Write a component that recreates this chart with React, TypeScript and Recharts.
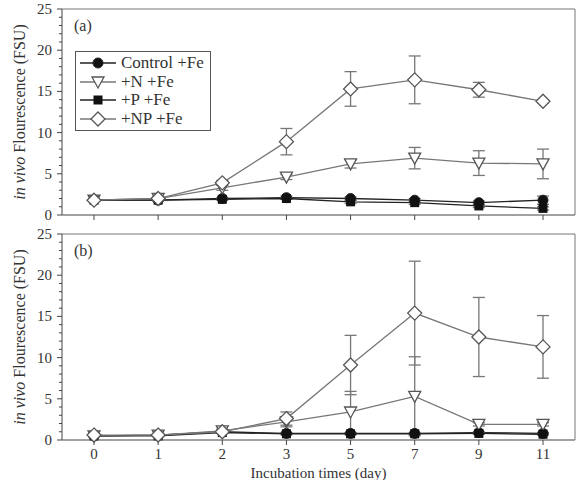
import { LineChart, Line, XAxis, YAxis, ErrorBar, Legend, Label } from 'recharts';

const days = ['0', '1', '2', '3', '5', '7', '9', '11'];
const yTicks = Array.from({ length: 26 }, (_, i) => i);

const seriesNames = ['Control +Fe', '+N +Fe', '+P +Fe', '+NP +Fe'];

// panel (a)
const ctrlA = [1.8, 1.8, 2.0, 2.1, 2.0, 1.8, 1.5, 1.8];
const ctrlAErr = [0.1, 0.1, 0.1, 0.2, 0.2, 0.2, 0.2, 0.5];
const nA = [1.8, 2.0, 3.3, 4.6, 6.2, 6.9, 6.3, 6.2];
const nAErr = [0.1, 0.2, 0.3, 0.3, 0.5, 1.3, 1.5, 1.8];
const pA = [1.8, 1.8, 1.9, 2.0, 1.6, 1.5, 1.1, 0.8];
const pAErr = [0.1, 0.1, 0.1, 0.1, 0.2, 0.2, 0.2, 0.2];
const npA = [1.8, 2.0, 3.9, 8.9, 15.3, 16.4, 15.2, 13.8];
const npAErr = [0.1, 0.2, 0.3, 1.6, 2.1, 2.9, 0.9, 0.2];

// panel (b)
const ctrlB = [0.5, 0.6, 1.0, 0.8, 0.8, 0.8, 0.9, 0.8];
const ctrlBErr = [0.1, 0.1, 0.1, 0.1, 0.1, 0.1, 0.1, 0.1];
const nB = [0.5, 0.6, 1.1, 2.2, 3.4, 5.3, 1.9, 1.9];
const nBErr = [0.1, 0.1, 0.2, 0.6, 2.5, 4.8, 0.2, 0.2];
const pB = [0.5, 0.5, 0.9, 0.75, 0.75, 0.75, 0.8, 0.7];
const pBErr = [0.1, 0.1, 0.1, 0.1, 0.1, 0.1, 0.1, 0.1];
const npB = [0.6, 0.6, 1.0, 2.6, 9.1, 15.4, 12.5, 11.3];
const npBErr = [0.1, 0.1, 0.2, 0.8, 3.6, 6.3, 4.8, 3.8];

const build = (c: number[], ce: number[], n: number[], ne: number[], p: number[], pe: number[], np: number[], npe: number[]) =>
  days.map((day, i) => ({ day, c: c[i], ce: ce[i], n: n[i], ne: ne[i], p: p[i], pe: pe[i], np: np[i], npe: npe[i] }));

const dataA = build(ctrlA, ctrlAErr, nA, nAErr, pA, pAErr, npA, npAErr);
const dataB = build(ctrlB, ctrlBErr, nB, nBErr, pB, pBErr, npB, npBErr);

const FONT = '"Liberation Serif", "Times New Roman", serif';
const AXIS = '#444';
const TEXT = '#333';
const DARK = '#222';
const GREY = '#777';

function Marker({ cx, cy, shape }: { cx: number; cy: number; shape: string }) {
  if (cx == null || cy == null) return null;
  if (shape === 'circle') return <circle cx={cx} cy={cy} r={5} fill="#111" stroke="#222" strokeWidth={1} />;
  if (shape === 'square') return <rect x={cx - 4.5} y={cy - 4.5} width={9} height={9} fill="#111" />;
  if (shape === 'tri')
    return <path d={`M${cx - 6},${cy - 5}L${cx + 6},${cy - 5}L${cx},${cy + 6}Z`} fill="#fff" stroke="#555" strokeWidth={1.3} />;
  return <path d={`M${cx},${cy - 7}L${cx + 7},${cy}L${cx},${cy + 7}L${cx - 7},${cy}Z`} fill="#fff" stroke="#555" strokeWidth={1.3} />;
}

const dot = (shape: string) => (p: any) => <Marker key={`${shape}-${p.index}`} cx={p.cx} cy={p.cy} shape={shape} />;

const YTick = (props: any) => {
  const { x, y, payload } = props;
  const major = payload.value % 5 === 0;
  return (
    <g>
      <line x1={x} x2={x - (major ? 5 : 3)} y1={y} y2={y} stroke={AXIS} />
      {major && (
        <text x={x - 10} y={y} dy={5} textAnchor="end" fontSize={15} fill={TEXT} fontFamily={FONT}>
          {payload.value}
        </text>
      )}
    </g>
  );
};

const YLabel = (props: any) => {
  const vb = props.viewBox;
  const cx = 19;
  const cy = vb.y + vb.height / 2;
  return (
    <text x={cx} y={cy} transform={`rotate(-90 ${cx} ${cy})`} textAnchor="middle" dominantBaseline="central" fontSize={16} fill={TEXT} fontFamily={FONT}>
      <tspan fontStyle="italic">in vivo</tspan> Flourescence (FSU)
    </text>
  );
};

const shapes = ['circle', 'tri', 'square', 'diamond'];
const lineColors = [DARK, GREY, DARK, GREY];

const LegendBox = () => (
  <div style={{ border: '1.5px solid #555', padding: '2px 6px 2px 4px', background: '#fff', fontFamily: FONT, fontSize: 17, color: TEXT }}>
    {seriesNames.map((name, i) => (
      <div key={name} style={{ display: 'flex', alignItems: 'center', height: 18.5 }}>
        <svg width={36} height={16} style={{ marginRight: 5 }}>
          <line x1={0} x2={36} y1={8} y2={8} stroke={lineColors[i]} strokeWidth={1.3} />
          <Marker cx={18} cy={8} shape={shapes[i]} />
        </svg>
        <span>{name}</span>
      </div>
    ))}
  </div>
);

function Panel({ data, tag, top, height, showLegend, bottomAxis }: any) {
  return (
    <div style={{ position: 'absolute', left: 0, top }}>
      <LineChart width={578} height={height} data={data} margin={{ top: 8, right: 2, left: 0, bottom: 0 }}>
        <XAxis
          dataKey="day"
          height={bottomAxis ? 40 : 10}
          padding={{ left: 32, right: 32 }}
          tickSize={5}
          tickMargin={3}
          stroke={AXIS}
          tick={{ fontSize: 15, fill: TEXT, fontFamily: FONT }}
          tickFormatter={bottomAxis ? undefined : () => ''}
          interval={0}
        >
          {bottomAxis && (
            <Label value="Incubation times (day)" position="insideBottom" offset={2} fontSize={15} fill={TEXT} fontFamily={FONT} />
          )}
        </XAxis>
        <XAxis xAxisId="top" dataKey="day" orientation="top" height={1} padding={{ left: 32, right: 32 }} tick={false} tickLine={false} stroke={GREY}>
          <Label
            content={(p: any) => (
              <text x={p.viewBox.x + 12} y={p.viewBox.y + 23} fontSize={16} fill={TEXT} fontFamily={FONT}>
                {tag}
              </text>
            )}
          />
        </XAxis>
        <YAxis
          width={62}
          domain={[0, 25]}
          ticks={yTicks}
          interval={0}
          tickSize={0}
          tickMargin={0}
          tickLine={false}
          tick={<YTick />}
          stroke={AXIS}
        >
          <Label content={<YLabel />} />
        </YAxis>
        <YAxis yAxisId="right" orientation="right" width={1} domain={[0, 25]} tick={false} tickLine={false} stroke={GREY} />
        <Line dataKey="c" stroke={DARK} strokeWidth={1.3} dot={dot('circle')} isAnimationActive={false}>
          <ErrorBar dataKey="ce" width={6} stroke={GREY} strokeWidth={1.3} direction="y" />
        </Line>
        <Line dataKey="n" stroke={GREY} strokeWidth={1.3} dot={dot('tri')} isAnimationActive={false}>
          <ErrorBar dataKey="ne" width={6} stroke={GREY} strokeWidth={1.3} direction="y" />
        </Line>
        <Line dataKey="p" stroke={DARK} strokeWidth={1.3} dot={dot('square')} isAnimationActive={false}>
          <ErrorBar dataKey="pe" width={6} stroke={GREY} strokeWidth={1.3} direction="y" />
        </Line>
        <Line dataKey="np" stroke={GREY} strokeWidth={1.3} dot={dot('diamond')} isAnimationActive={false}>
          <ErrorBar dataKey="npe" width={6} stroke={GREY} strokeWidth={1.3} direction="y" />
        </Line>
        {showLegend && (
          <Legend
            layout="vertical"
            align="center"
            verticalAlign="middle"
            content={() => <LegendBox />}
            wrapperStyle={{ left: 75, top: 51, width: 'auto', height: 'auto' }}
          />
        )}
      </LineChart>
    </div>
  );
}

export default function App() {
  return (
    <div style={{ position: 'absolute', left: 0, top: 0, width: 578, height: 480, background: '#fff', overflow: 'hidden' }}>
      <Panel data={dataA} tag="(a)" top={0} height={225} showLegend bottomAxis={false} />
      <Panel data={dataB} tag="(b)" top={225} height={255} showLegend={false} bottomAxis />
    </div>
  );
}
